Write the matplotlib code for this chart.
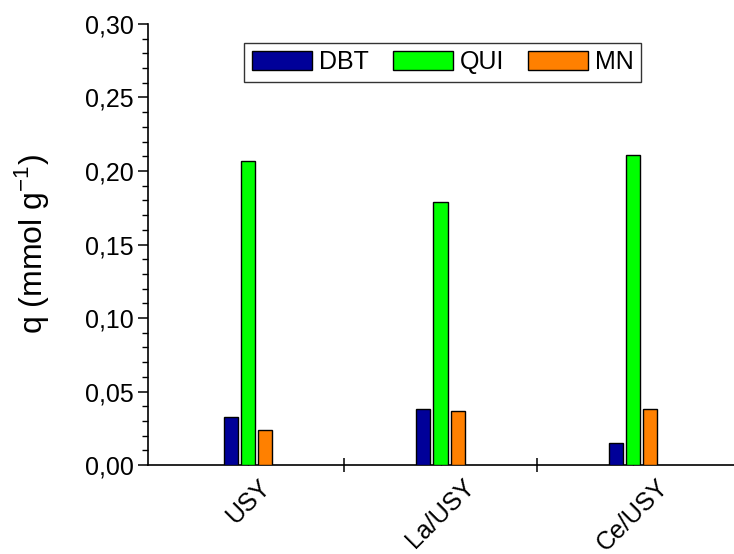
import numpy as np
import matplotlib
matplotlib.use('Agg')
import matplotlib.pyplot as plt
from matplotlib.ticker import FuncFormatter, MultipleLocator, FixedLocator

plt.rcParams['font.family'] = ['Liberation Sans', 'DejaVu Sans']

# data
catalysts = ['USY', 'La/USY', 'Ce/USY']
dbt = [0.033, 0.038, 0.015]
qui = [0.207, 0.179, 0.211]
mn = [0.024, 0.037, 0.038]

series_names = ['DBT', 'QUI', 'MN']
series_colors = ['#000099', '#00ff00', '#ff8000']

fig = plt.figure(figsize=(7.34, 5.54), dpi=100)
ax = fig.add_axes([0.2016, 0.1606, 0.7984, 0.7961])

x = np.arange(1, len(catalysts) + 1)
bar_w = 0.073
step = 0.09
for i, (vals, name, col) in enumerate(zip([dbt, qui, mn], series_names, series_colors)):
    ax.bar(x + (i - 1) * step, vals, width=bar_w, color=col, edgecolor='black',
           linewidth=1.0, label=name, zorder=3)

ax.set_xlim(0.48, 3.525)
ax.set_ylim(0, 0.30)

ax.spines['top'].set_visible(False)
ax.spines['right'].set_visible(False)
ax.spines['left'].set_linewidth(1.2)
ax.spines['bottom'].set_linewidth(1.2)

ax.yaxis.set_major_locator(MultipleLocator(0.05))
ax.yaxis.set_minor_locator(MultipleLocator(0.01))
ax.yaxis.set_major_formatter(FuncFormatter(lambda v, p: f'{v:.2f}'.replace('.', ',')))
ax.tick_params(axis='y', which='major', direction='out', length=7, width=1.1, labelsize=18, pad=3)
ax.tick_params(axis='y', which='minor', direction='out', length=4, width=1.0)

ax.set_xticks(x)
ax.set_xticklabels(catalysts, rotation=45, ha='center', fontsize=18)
ax.xaxis.set_minor_locator(FixedLocator([1.5, 2.5]))
ax.tick_params(axis='x', which='major', direction='in', length=3, width=1.0, pad=7)
ax.tick_params(axis='x', which='minor', direction='inout', length=10, width=1.1)

ax.set_ylabel('q (mmol g$^{\\mathregular{-1}}$)', fontsize=23)
ax.yaxis.set_label_coords(-0.165, 0.5)

leg = ax.legend(loc='center', bbox_to_anchor=(0.503, 0.913), ncol=3, fontsize=18,
                handlelength=2.4, handleheight=0.8, handletextpad=0.28,
                columnspacing=0.95, fancybox=False, frameon=True, borderpad=0.3)
leg.get_frame().set_edgecolor('black')
leg.get_frame().set_linewidth(1.0)

fig.savefig('out.png', dpi=100)
